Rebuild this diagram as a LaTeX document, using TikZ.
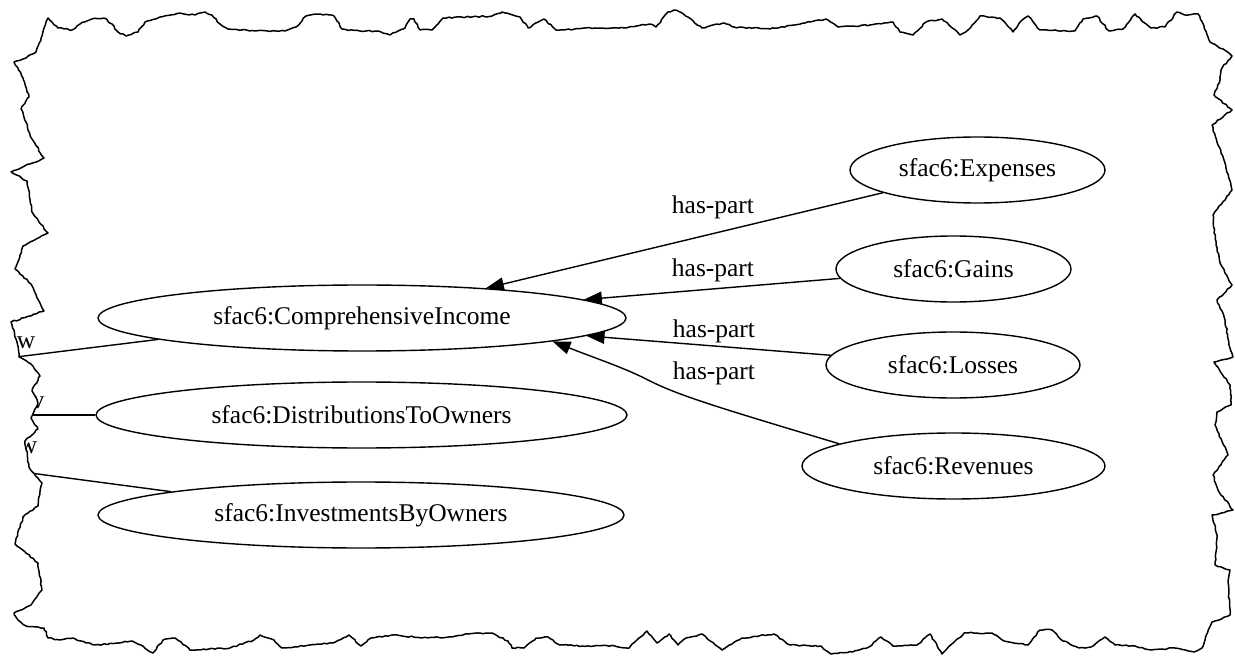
\documentclass[tikz,border=0pt]{standalone}
\usepackage{fontspec}
\setmainfont{Liberation Serif}
\usetikzlibrary{shapes.geometric,arrows.meta,decorations.pathmorphing}
\newcommand{\tearpath}{(14,62) -- (26,58) -- (36,52) -- (42,36) -- (48,18) -- (58,28) -- (72,30) -- (80,24) -- (92,19) -- (104,18) -- (112,24) -- (118,32) -- (126,36) -- (138,32) -- (145,22) -- (160,17) -- (180,13) -- (195,15) -- (205,12) -- (212,15) -- (220,24) -- (228,29) -- (255,31) -- (285,31) -- (296,27) -- (306,16) -- (320,14) -- (334,16) -- (342,29) -- (360,31) -- (378,31) -- (390,35) -- (405,28) -- (410,19) -- (414,19) -- (420,30) -- (432,30) -- (443,18) -- (492,16) -- (502,12) -- (520,17) -- (528,28) -- (544,19) -- (556,30) -- (595,28) -- (625,28) -- (650,24) -- (656,27) -- (668,12) -- (676,10) -- (688,17) -- (702,28) -- (724,23) -- (734,27) -- (770,29) -- (810,22) -- (826,19) -- (838,27) -- (870,25) -- (893,22) -- (900,32) -- (913,35) -- (926,22) -- (942,19) -- (950,26) -- (960,35) -- (968,30) -- (980,16) -- (1000,18) -- (1013,32) -- (1020,22) -- (1028,16) -- (1040,30) -- (1075,31) -- (1083,19) -- (1097,16) -- (1109,31) -- (1123,29) -- (1135,14) -- (1143,22) -- (1151,28) -- (1165,27) -- (1177,12) -- (1185,15) -- (1198,14) -- (1204,26) -- (1210,42) -- (1226,51) -- (1232,56) -- (1222,68) -- (1220,80) -- (1214,95) -- (1232,110) -- (1212,125) -- (1218,145) -- (1224,160) -- (1232,190) -- (1213,215) -- (1216,245) -- (1221,265) -- (1232,285) -- (1217,300) -- (1225,320) -- (1229,345) -- (1233,357) -- (1214,362) -- (1230,385) -- (1231,405) -- (1217,412) -- (1215,425) -- (1228,455) -- (1213,475) -- (1218,490) -- (1233,510) -- (1212,515) -- (1217,535) -- (1215,565) -- (1230,570) -- (1228,582) -- (1230,615) -- (1212,622) -- (1205,640) -- (1202,648) -- (1194,652) -- (1175,648) -- (1151,650) -- (1135,646) -- (1115,645) -- (1105,637) -- (1091,647) -- (1079,648) -- (1063,641) -- (1052,630) -- (1040,630) -- (1028,645) -- (1004,641) -- (992,633) -- (964,633) -- (942,654) -- (930,634) -- (917,645) -- (893,646) -- (881,637) -- (869,647) -- (853,652) -- (831,654) -- (821,646) -- (790,645) -- (774,634) -- (742,638) -- (722,650) -- (702,634) -- (686,638) -- (678,645) -- (669,634) -- (657,643) -- (647,631) -- (639,638) -- (629,648) -- (615,646) -- (583,646) -- (560,645) -- (548,637) -- (536,638) -- (524,648) -- (512,648) -- (508,641) -- (492,633) -- (468,634) -- (452,637) -- (421,638) -- (397,635) -- (371,638) -- (361,646) -- (349,635) -- (333,643) -- (310,645) -- (282,648) -- (274,640) -- (260,635) -- (254,640) -- (230,648) -- (190,650) -- (175,638) -- (163,640) -- (153,653) -- (141,645) -- (131,641) -- (119,643) -- (95,645) -- (81,641) -- (73,638) -- (60,640) -- (48,638) -- (44,628) -- (26,626) -- (18,620) -- (14,613) -- (31,605) -- (36,598) -- (42,590) -- (38,563) -- (15,544) -- (23,517) -- (38,506) -- (42,483) -- (29,467) -- (25,441) -- (38,429) -- (31,418) -- (38,403) -- (32,391) -- (40,376) -- (31,364) -- (19,357) -- (17,342) -- (11,322) -- (44,311) -- (31,284) -- (15,269) -- (23,246) -- (48,233) -- (32,212) -- (27,181) -- (11,172) -- (44,158) -- (32,139) -- (21,109) -- (29,97) -- (23,78) -- cycle}
\begin{document}
\begin{tikzpicture}[x=1pt,y=-1pt,
  font=\fontsize{25.5}{30}\selectfont,
  ent/.style={ellipse,draw,line width=1.4pt,inner sep=0pt,minimum height=66pt},
  lbl/.style={inner sep=0pt},
  edgeline/.style={line width=1.4pt},
  arr/.style={edgeline,-{Triangle[length=18pt,width=13pt]}},
  tear/.style={line width=1.5pt,line join=round,decorate,decoration={random steps,segment length=3pt,amplitude=0.7pt}}]
\useasboundingbox (0,0) rectangle (1235,660);
\begin{scope}
\clip \tearpath;
\node[ent,minimum width=528pt] (ci) at (362,318) {sfac6:ComprehensiveIncome};
\node[ent,minimum width=531pt] (dto) at (361.5,415) {sfac6:DistributionsToOwners};
\node[ent,minimum width=526pt] (ibo) at (361,515) {sfac6:InvestmentsByOwners};
\node[ent,minimum width=255pt] (exp) at (977.5,170) {sfac6:Expenses};
\node[ent,minimum width=235pt] (gai) at (953.5,269) {sfac6:Gains};
\node[ent,minimum width=254pt] (los) at (953,365) {sfac6:Losses};
\node[ent,minimum width=303pt] (rev) at (953.5,466) {sfac6:Revenues};
\draw[arr] (exp) -- (ci);
\draw[arr] (gai) -- (ci);
\draw[arr] (los) -- (ci);
\draw[arr] (rev.169) .. controls (720,408) and (680,396) .. (650,381) .. controls (625,368) and (600,360) .. (ci.-7.6);
\node[lbl] (hp1) at (713,207) {has-part};
\node[lbl] (hp2) at (713,270) {has-part};
\node[lbl] (hp3) at (714,331) {has-part};
\node[lbl] (hp4) at (714,373) {has-part};
\coordinate (l1) at (0,359);
\coordinate (l2) at (0,415);
\coordinate (l3) at (0,469);
\draw[edgeline] (ci.186.5) -- (l1);
\draw[edgeline] (dto.west) -- (l2);
\draw[edgeline] (ibo.173.5) -- (l3);
\node[lbl] (w1) at (26,342.5) {w};
\node[lbl] (v1) at (38,402.5) {v};
\node[lbl] (w2) at (28,447.5) {w};
\end{scope}
\pgfmathsetseed{7}
\draw[tear] \tearpath;
\end{tikzpicture}
\end{document}
